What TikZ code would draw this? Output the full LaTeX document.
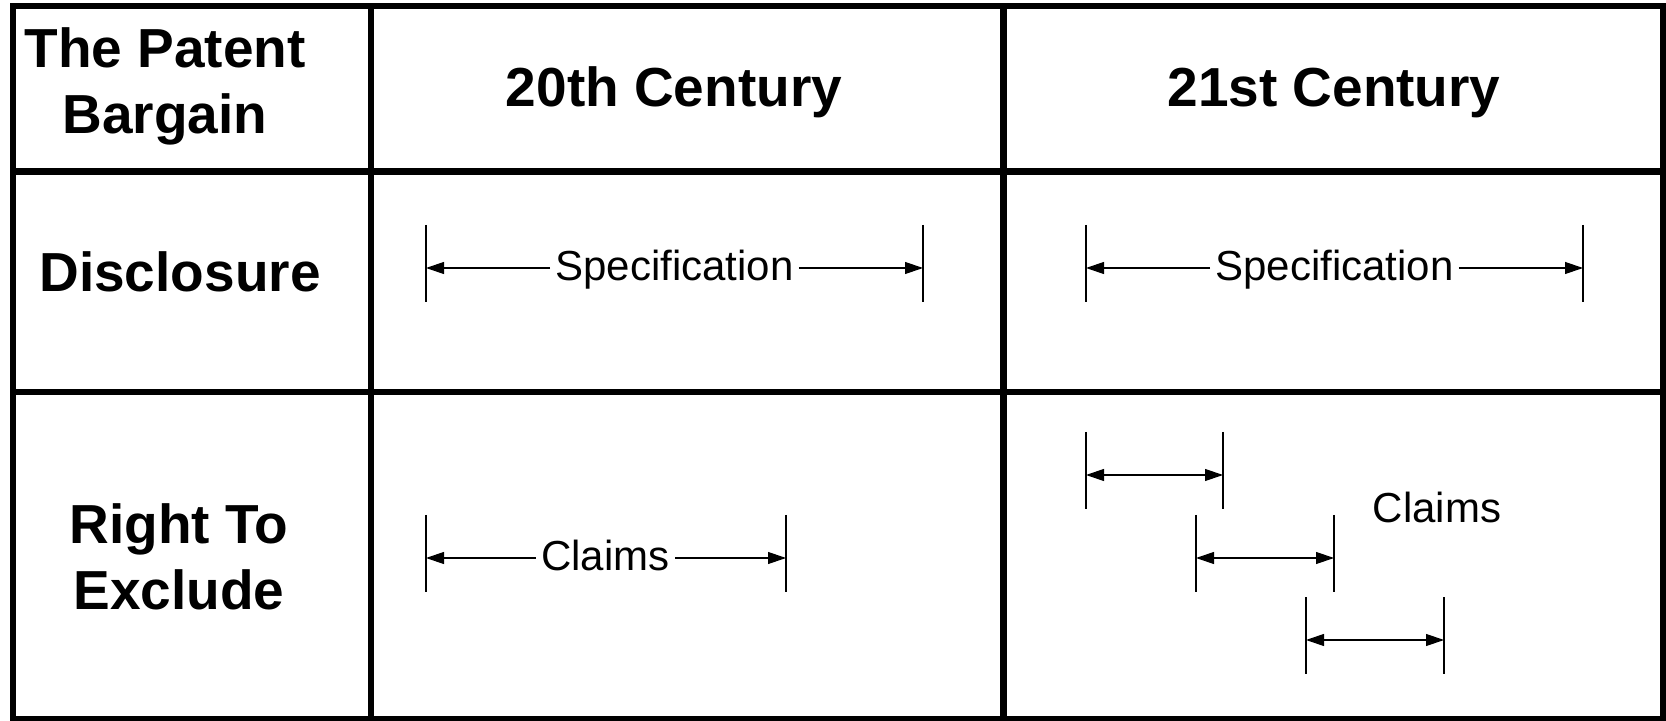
\documentclass[tikz,border=0pt]{standalone}
\usepackage{fontspec}
\setmainfont{Liberation Sans}
\usetikzlibrary{arrows.meta}

\begin{document}
\begin{tikzpicture}[%
            x=0.5pt,
            y=-0.5pt,
            ]
    \tikzset{grid/.style = {line width=3.2pt, line cap=rect}}
    \tikzset{head/.style = {font=\fontsize{27.5}{33}\selectfont\bfseries, inner sep=0pt}}
    \tikzset{lbl/.style = {font=\fontsize{21}{25}\selectfont, inner sep=2.5pt}}
    \tikzset{dim/.style = {line width=0.6pt, -{Triangle[length=9pt, width=6pt]}}}
    \tikzset{dimboth/.style = {line width=0.6pt, {Triangle[length=9pt, width=6pt]}-{Triangle[length=9pt, width=6pt]}}}
    \tikzset{tick/.style = {line width=0.7pt}}

    \useasboundingbox (0,0) rectangle (1666,721);

    % Table
    \draw[grid] (13,6) rectangle (1663,719);
    \draw[grid] (13,171.5) -- (1663,171.5);
    \draw[grid] (13,392) -- (1663,392);
    \draw[grid] (371,6) -- (371,719);
    \draw[grid] (1003.5,6) -- (1003.5,719);

    % Headings
    \node[head, align=center] (bargain) at (165,86) {The Patent\\Bargain};
    \node[head, anchor=base] (cent20) at (674,107) {20th Century};
    \node[head, anchor=base] (cent21) at (1334,107) {21st Century};
    \node[head, anchor=base] (discl) at (180,292) {Disclosure};
    \node[head, align=center] (excl) at (179,557) {Right To\\Exclude};

    % Tick points
    \coordinate (s20l) at (426,268);
    \coordinate (s20r) at (923,268);
    \coordinate (s21l) at (1086,268);
    \coordinate (s21r) at (1583,268);
    \coordinate (c20l) at (426,558);
    \coordinate (c20r) at (786,558);
    \coordinate (c1l) at (1086,475);
    \coordinate (c1r) at (1223,475);
    \coordinate (c2l) at (1196,558);
    \coordinate (c2r) at (1334,558);
    \coordinate (c3l) at (1306,640);
    \coordinate (c3r) at (1444,640);
    \foreach \p in {s20l,s20r,s21l,s21r,c20l,c20r,c1l,c1r,c2l,c2r,c3l,c3r}
        \draw[tick] (\p) ++(0,-43) -- ++(0,77);

    % Dimensions
    \node[lbl, anchor=base] (spec20) at (674.5,281) {Specification};
    \draw[dim] (spec20.west |- s20l) -- (s20l);
    \draw[dim] (spec20.east |- s20r) -- (s20r);

    \node[lbl, anchor=base] (spec21) at (1334.5,281) {Specification};
    \draw[dim] (spec21.west |- s21l) -- (s21l);
    \draw[dim] (spec21.east |- s21r) -- (s21r);

    \node[lbl, anchor=base] (claim20) at (605.5,571) {Claims};
    \draw[dim] (claim20.west |- c20l) -- (c20l);
    \draw[dim] (claim20.east |- c20r) -- (c20r);

    \node[lbl, anchor=base] (claim21) at (1437,523) {Claims};
    \draw[dimboth] (c1l) -- (c1r);
    \draw[dimboth] (c2l) -- (c2r);
    \draw[dimboth] (c3l) -- (c3r);

\end{tikzpicture}
\end{document}
